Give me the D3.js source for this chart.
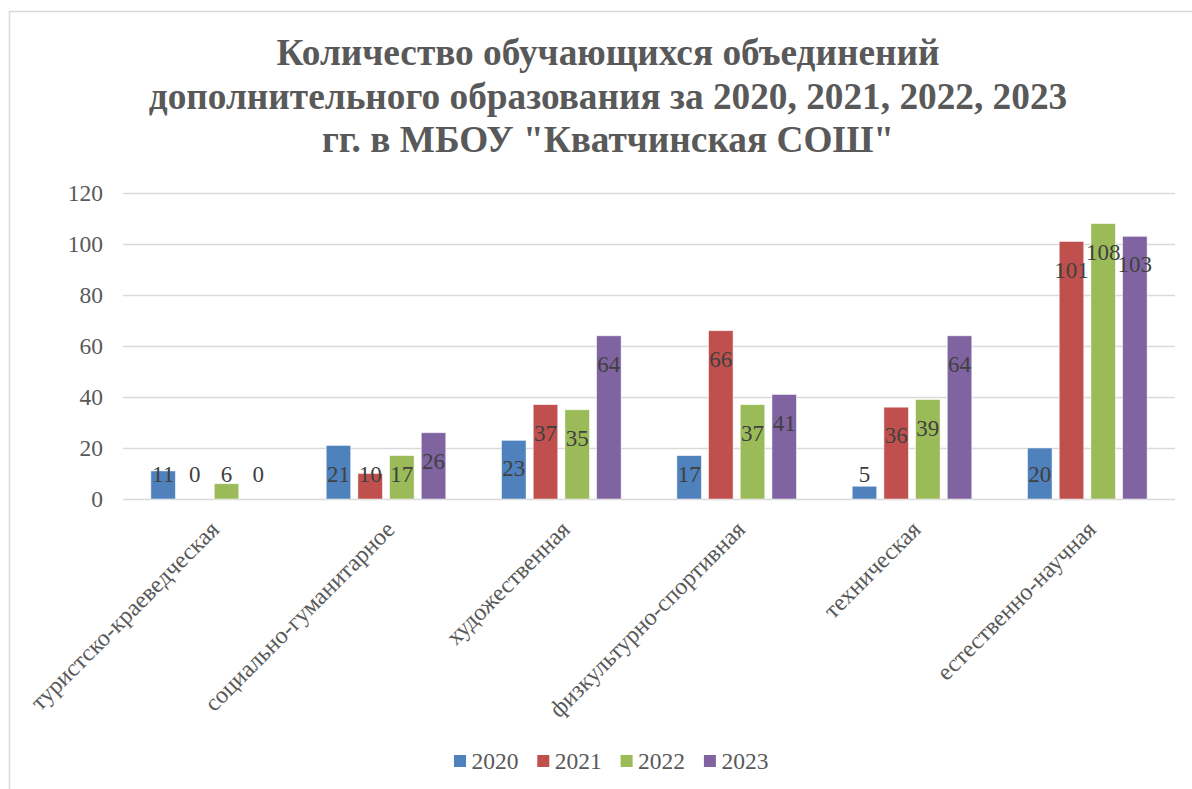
<!DOCTYPE html>
<html>
<head>
<meta charset="utf-8">
<script src="https://cdn.jsdelivr.net/npm/d3@7"></script>
<style>
  body { margin: 0; background: #fff; }
  svg { display: block; }
</style>
</head>
<body>
<script>
// chart data
var categories = ["туристско-краеведческая", "социально-гуманитарное", "художественная",
                  "физкультурно-спортивная", "техническая", "естественно-научная"];
var years = ["2020", "2021", "2022", "2023"];
var v2020 = [11, 21, 23, 17, 5, 20];
var v2021 = [0, 10, 37, 66, 36, 101];
var v2022 = [6, 17, 35, 37, 39, 108];
var v2023 = [0, 26, 64, 41, 64, 103];
var yTicks = [0, 20, 40, 60, 80, 100, 120];
var titleLines = ["Количество обучающихся объединений",
                  "дополнительного образования за 2020, 2021, 2022, 2023",
                  "гг. в МБОУ \"Кватчинская СОШ\""];

var colors = ["#4F81BD", "#C0504D", "#9BBB59", "#8064A2"];
var series = [v2020, v2021, v2022, v2023];
var serif = "'Liberation Serif', 'Times New Roman', serif";

var W = 1192, H = 789;
var plot = {left: 123, right: 1175, top: 193, bottom: 499};

var svg = d3.select("body").append("svg")
    .attr("width", W)
    .attr("height", H);

// chart border
svg.append("rect")
    .attr("x", 9.5).attr("y", 11.5)
    .attr("width", 1200).attr("height", 800)
    .attr("fill", "#fff")
    .attr("stroke", "#d9d9d9")
    .attr("stroke-width", 1.5);

// title
svg.append("text")
    .attr("text-anchor", "middle")
    .style("font-family", serif)
    .style("font-weight", "bold")
    .style("font-size", "37.3px")
    .attr("fill", "#595959")
    .selectAll("tspan")
    .data(titleLines)
    .enter().append("tspan")
    .attr("x", 608)
    .attr("y", function(d, i) { return 65 + i * 43.5; })
    .text(function(d) { return d; });

// scales
var x0 = d3.scaleBand()
    .domain(categories)
    .range([plot.left, plot.right])
    .paddingInner(0.277)
    .paddingOuter(0.1385);

var x1 = d3.scaleBand()
    .domain(years)
    .range([0, x0.bandwidth()])
    .paddingInner(0.227)
    .paddingOuter(0.1135);

var y = d3.scaleLinear()
    .domain([0, 120])
    .range([plot.bottom, plot.top]);

// y axis + gridlines
var yAxis = svg.append("g")
    .attr("transform", "translate(" + plot.left + ",0)")
    .call(d3.axisLeft(y).tickValues(yTicks)
        .tickSize(-(plot.right - plot.left)).tickPadding(20));
yAxis.select(".domain").remove();
yAxis.selectAll(".tick line")
    .attr("stroke", "#d9d9d9")
    .attr("stroke-width", 1.5);
yAxis.selectAll(".tick text")
    .style("font-family", serif)
    .style("font-size", "23.5px")
    .attr("fill", "#595959")
    .attr("dy", "0.33em");

// x axis labels
var xAxis = svg.append("g")
    .attr("transform", "translate(0," + plot.bottom + ")")
    .call(d3.axisBottom(x0).tickSize(0));
xAxis.select(".domain").remove();
xAxis.selectAll(".tick text")
    .style("font-family", serif)
    .style("font-size", "24px")
    .attr("fill", "#595959")
    .attr("x", 0).attr("y", 0).attr("dy", 0)
    .attr("transform", "translate(10,32) rotate(-45)")
    .style("text-anchor", "end");

// bars
var groups = svg.append("g").selectAll("g")
    .data(categories)
    .enter().append("g")
    .attr("transform", function(d) { return "translate(" + x0(d) + ",0)"; });

groups.selectAll("rect")
    .data(function(d, i) {
        return years.map(function(yr, j) { return {year: yr, value: series[j][i], k: j}; });
    })
    .enter().append("rect")
    .attr("x", function(d) { return x1(d.year); })
    .attr("y", function(d) { return y(d.value); })
    .attr("width", x1.bandwidth())
    .attr("height", function(d) { return y(0) - y(d.value); })
    .attr("fill", function(d) { return colors[d.k]; })
    .attr("stroke", "#fff")
    .attr("stroke-opacity", 0.6)
    .attr("stroke-width", 0.8);

// data labels
groups.selectAll("text.lbl")
    .data(function(d, i) {
        return years.map(function(yr, j) { return {year: yr, value: series[j][i]}; });
    })
    .enter().append("text")
    .attr("class", "lbl")
    .attr("x", function(d) { return x1(d.year) + x1.bandwidth() / 2; })
    .attr("y", function(d) { return Math.min(y(d.value) + 28, y(0) - 25); })
    .attr("dy", "0.35em")
    .attr("text-anchor", "middle")
    .style("font-family", serif)
    .style("font-size", "23px")
    .attr("fill", "#404040")
    .text(function(d) { return d.value; });

// legend
var lx = d3.scaleBand().domain(years).range([454, 454 + 4 * 83.3]);
var legend = svg.append("g").selectAll("g")
    .data(years)
    .enter().append("g")
    .attr("transform", function(d) { return "translate(" + lx(d) + ",755)"; });
legend.append("rect")
    .attr("width", 12).attr("height", 12)
    .attr("fill", function(d, i) { return colors[i]; });
legend.append("text")
    .attr("x", 17.5).attr("y", 6)
    .attr("dy", "0.35em")
    .style("font-family", serif)
    .style("font-size", "23.5px")
    .attr("fill", "#595959")
    .text(function(d) { return d; });
</script>
</body>
</html>
